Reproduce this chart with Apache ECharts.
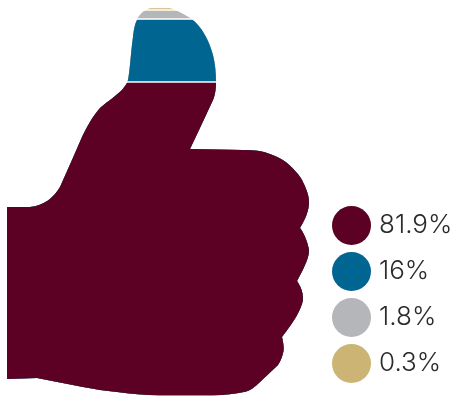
<!DOCTYPE html>
<html>
<head>
<meta charset="utf-8">
<style>html,body{margin:0;padding:0;background:#fff}#chart{width:453px;height:396px}</style>
<script src="https://cdn.jsdelivr.net/npm/echarts@6/dist/echarts.min.js"></script>
</head>
<body>
<div id="chart"></div>
<script>
// Survey shares, bottom of the hand first
const shareLabels = ['81.9%', '16%', '1.8%', '0.3%'];
const shareValues = [81.9, 16, 1.8, 0.3];
const shareColors = ['#5c0024', '#006591', '#b4b6ba', '#ccb574'];

// White rule between bands, in axis units
const bandGap = 0.39;
const axisMax = 101.5;

// Thumbs-up outline
const thumbPath = 'path://M7 207 L30 207 C44 206 54 197 60 187 L72 160 L82 137 C87 127 92 117 100 108 ' +
  'C108 101 116 96 122 90 C125 86 127 84 128 80 C130 70 131 50 133 37 C134 28 135 24 137 20 ' +
  'C139 15 144 10 150 8 C155 7 157 7 160 7 C164 7 168 8 170 8 C176 10 183 14 190 18 ' +
  'C201 25 209 40 213 55 C215 63 216 72 216 82 C216 92 214 98 213 100 L199 130 L190 149 L243 150 ' +
  'C255 150 262 151 267 153 C277 156 283 160 287 163 C295 170 300 176 302 180 C306 188 309 195 309 202 ' +
  'C309 210 306 218 300 228 C304 233 308 243 309 250 C309 256 307 263 297 281 C301 287 303 292 303 300 ' +
  'C301 310 295 320 282 337 C284 345 284 351 283 353 C282 358 280 362 278 365 L260 382 ' +
  'C255 387 250 391 244 392 C235 394 225 395 213 395.5 L160 395.5 C145 395 130 394 117 392 ' +
  'C105 391 95 389 83 387 L37 378 L7 379 Z';

// Each band is the hand clipped at its running total
let runningTotal = 0;
const bandTops = shareValues.map((v, i) => {
  runningTotal += v;
  return runningTotal + i * bandGap;
});
const ruleLines = bandTops.slice(0, -1).map(t => ({ yAxis: t + bandGap / 2 }));

// Higher bands are painted first, so the lower bands sit on top of them
const bandSeries = shareLabels.map((label, i) => ({
  name: label,
  type: 'pictorialBar',
  data: [bandTops[i]],
  symbol: thumbPath,
  symbolSize: [302, '100%'],
  symbolClip: true,
  symbolBoundingData: axisMax,
  barWidth: 302,
  barGap: '-100%',
  z: 10 + shareValues.length - i,
  itemStyle: { color: shareColors[i] },
  silent: true,
  markLine: i === 0 ? {
    silent: true,
    symbol: 'none',
    z: 20,
    label: { show: false },
    lineStyle: { color: '#fff', width: 1.5, type: 'solid', opacity: 1 },
    data: ruleLines
  } : undefined
}));

const chart = echarts.init(document.getElementById('chart'), null, { renderer: 'canvas' });
chart.setOption({
  animation: false,
  backgroundColor: '#fff',
  grid: { left: 7, right: 144, top: 7, bottom: 0.5 },
  xAxis: { type: 'category', data: ['share'], show: false },
  yAxis: { type: 'value', min: 0, max: axisMax, show: false },
  legend: {
    show: true,
    orient: 'vertical',
    left: 332,
    top: 206,
    padding: 0,
    itemWidth: 39,
    itemHeight: 39,
    itemGap: 7,
    icon: 'circle',
    selectedMode: false,
    data: shareLabels,
    textStyle: {
      fontFamily: 'Inter',
      fontWeight: 300,
      fontSize: 26,
      color: '#2b2b2b',
      padding: [0, 0, 0, 3]
    }
  },
  series: bandSeries
});
</script>
</body>
</html>
